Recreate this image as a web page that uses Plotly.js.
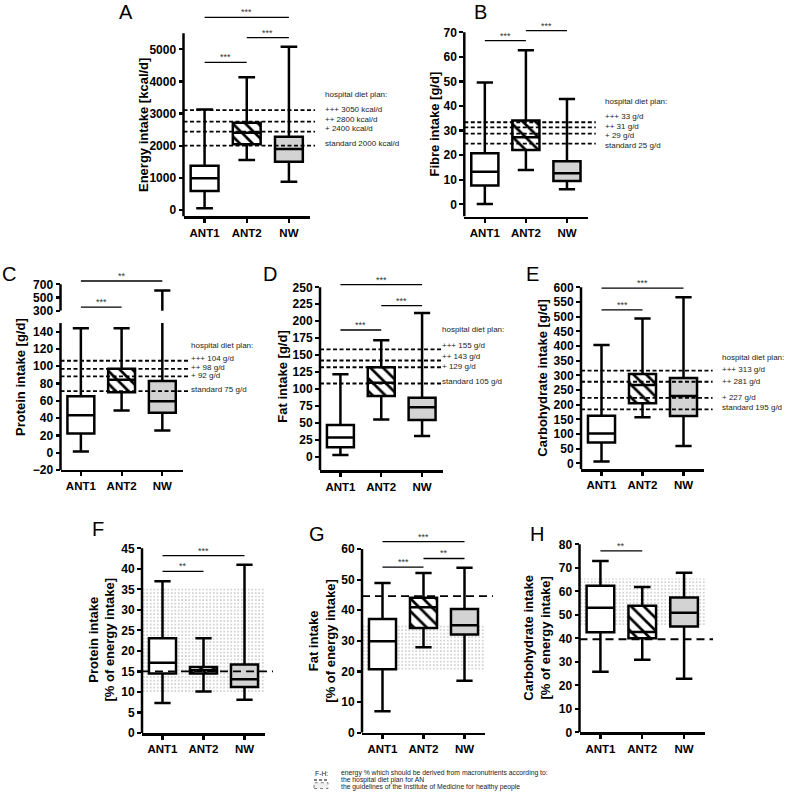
<!DOCTYPE html>
<html><head><meta charset="utf-8">
<script src="https://cdn.plot.ly/plotly-3.0.1.min.js"></script>
<style>html,body{margin:0;padding:0;background:#fff}#chart{width:787px;height:808px}</style>
</head><body><div id="chart"></div>
<script>
// ---------- data ----------
const groups = ['ANT1', 'ANT2', 'NW'];
// five-number summaries per group: [min, q1, median, q3, max]
const energyStats = [[52, 591, 985, 1380, 3130], [1556, 2044, 2407, 2718, 4129], [882, 1504, 1898, 2282, 5083]];
const energyPlan = [3110, 2750, 2440, 2000];
const energyPlanLabels = ['+++ 3050 kcal/d', '++ 2800 kcal/d', '+ 2400 kcal/d', 'standard 2000 kcal/d'];
const energySig = [[0, 1, 4595, '***'], [1, 2, 5363, '***'], [0, 2, 5996, '***']];
const energyTicks = [0, 1000, 2000, 3000, 4000, 5000];

const fibreStats = [[0.1, 7.7, 13.2, 20.8, 49.6], [14.0, 22.1, 27.3, 34.1, 62.7], [6.1, 9.5, 12.6, 17.5, 42.9]];
const fibrePlan = [33.4, 31.3, 28.8, 24.7];
const fibrePlanLabels = ['+++ 33 g/d', '++ 31 g/d', '+ 29 g/d', 'standard 25 g/d'];
const fibreSig = [[0, 1, 66.6, '***'], [1, 2, 70.7, '***']];
const fibreTicks = [0, 10, 20, 30, 40, 50, 60, 70];

const proteinStats = [[1.5, 22.3, 43.2, 65.2, 143.9], [48.9, 70, 84.5, 97, 144], [25.8, 46.2, 59.5, 83, 605]];
const proteinPlan = [106.4, 97, 88.3, 71.2];
const proteinPlanLabels = ['+++ 104 g/d', '++ 98 g/d', '+ 92 g/d', 'standard 75 g/d'];
const proteinSig = [[0, 1, 355, '***'], [0, 2, 750, '**']];
const proteinTicksLow = [-20, 0, 20, 40, 60, 80, 100, 120, 140];
const proteinTicksHigh = [300, 500, 700];

const fatStats = [[2.5, 13.8, 28.5, 46.8, 121.6], [55, 89.5, 109, 132, 172], [30.5, 54, 72.8, 87, 212]];
const fatPlan = [158.5, 142, 132, 108];
const fatPlanLabels = ['+++ 155 g/d', '++ 143 g/d', '+ 129 g/d', 'standard 105 g/d'];
const fatSig = [[0, 1, 187, '***'], [1, 2, 223, '***'], [0, 2, 254, '***']];
const fatTicks = [0, 25, 50, 75, 100, 125, 150, 175, 200, 225, 250];

const carbStats = [[6, 70.5, 102, 162.5, 403], [157, 204.5, 267, 304.5, 494], [59, 161, 229.5, 291, 566]];
const carbPlan = [316, 278, 223, 184];
const carbPlanLabels = ['+++ 313 g/d', '++ 281 g/d', '+ 227 g/d', 'standard 195 g/d'];
const carbSig = [[0, 1, 523, '***'], [0, 2, 597, '***']];
const carbTicks = [0, 50, 100, 150, 200, 250, 300, 350, 400, 450, 500, 550, 600];

const proteinPctStats = [[7.3, 14.5, 17.1, 23.1, 37], [10.1, 14.5, 15.3, 16.1, 23.1], [8.1, 11.2, 13.1, 16.7, 41]];
const proteinPctPlan = [15];
const proteinPctIOM = [10, 35.3];
const proteinPctSig = [[0, 1, 39.4, '**'], [0, 2, 43.2, '***']];
const proteinPctTicks = [0, 5, 10, 15, 20, 25, 30, 35, 40, 45];

const fatPctStats = [[7, 20.7, 29.9, 37.1, 48.9], [27.9, 34.2, 41, 44.1, 52.2], [17, 32.1, 35.1, 40.4, 53.9]];
const fatPctPlan = [44.6];
const fatPctIOM = [20.3, 35.3];
const fatPctSig = [[0, 1, 54.1, '***'], [1, 2, 56.9, '**'], [0, 2, 62.4, '***']];
const fatPctTicks = [0, 10, 20, 30, 40, 50, 60];

const carbPctStats = [[25.8, 42.6, 53, 62.4, 72.9], [30.9, 40, 42.7, 53.9, 61.8], [22.8, 45, 50.9, 57.4, 67.9]];
const carbPctPlan = [39.6];
const carbPctIOM = [45.1, 65.4];
const carbPctSig = [[0, 1, 77.2, '**']];
const carbPctTicks = [0, 10, 20, 30, 40, 50, 60, 70, 80];

// ---------- layout helpers ----------
const W = 787, H = 808;
const FONT = 'Liberation Sans, Arial, Helvetica, sans-serif';
const fx = p => p / W, fy = p => 1 - p / H;
function yDomain(m, lo, hi) {
  const s = (m[3] - m[1]) / (m[2] - m[0]);
  const pix = v => m[1] + (v - m[0]) * s;
  return [fy(pix(lo)), fy(pix(hi))];
}
const boxFills = ['white', 'rgba(0,0,0,0)', '#d3d3d3'];

const panels = [
  {letter: 'A', lp: [126, 12], stats: energyStats, plan: energyPlan, planLabels: energyPlanLabels, sig: energySig, ticks: energyTicks,
   xd: [183.5, 310], map: [0, 210, 5000, 49.3], range: [-200, 6200], spine: [-200, 5500], ext: 1.04, dash: '4px,2.5px',
   title: 'Energy intake [kcal/d]', tp: [143, 125], labX: 322.7, labY: [94.3, 109.3, 119, 128.7, 143.3]},
  {letter: 'B', lp: [480, 12], stats: fibreStats, plan: fibrePlan, planLabels: fibrePlanLabels, sig: fibreSig, ticks: fibreTicks,
   xd: [464.3, 587.5], map: [0, 204.3, 70, 32.3], range: [-5, 73], spine: [-5, 70], ext: 1.067, dash: '4px,2.5px',
   title: 'Fibre intake [g/d]', tp: [434, 124.5], labX: 602.7, labY: [101.7, 116.8, 126.3, 135.8, 145.5]},
  {letter: 'C', lp: [9, 274], stats: proteinStats, plan: proteinPlan, planLabels: proteinPlanLabels, sig: [], ticks: proteinTicksLow,
   xd: [60.5, 182.7], map: [0, 452.7, 140, 331.7], range: [-20, 150], spine: [-20, 150], ext: 1.045, dash: '4px,2.5px',
   title: 'Protein intake [g/d]', tp: [20, 377], labX: 189.3, labY: [346, 358.3, 367.3, 375.7, 389.3]},
  {upper: true, stats: proteinStats, sig: proteinSig, ticks: proteinTicksHigh,
   xd: [60.5, 182.7], map: [300, 310.7, 700, 284.3], range: [300, 780], spine: [300, 700]},
  {letter: 'D', lp: [270, 274], stats: fatStats, plan: fatPlan, planLabels: fatPlanLabels, sig: fatSig, ticks: fatTicks,
   xd: [320, 442.5], map: [0, 456.7, 250, 287.3], range: [-20, 262], spine: [-20, 250], ext: 1.0, dash: '4px,2.5px',
   title: 'Fat intake [g/d]', tp: [281.7, 377], labX: 440.3, labY: [330, 345.7, 356.7, 366.7, 381]},
  {letter: 'E', lp: [532, 274], stats: carbStats, plan: carbPlan, planLabels: carbPlanLabels, sig: carbSig, ticks: carbTicks,
   xd: [581, 704], map: [0, 463.3, 600, 287.3], range: [-20, 612], spine: [-20, 600], ext: 1.07, dash: '4px,2.5px',
   title: 'Carbohydrate intake [g/d]', tp: [541.7, 378], labX: 720, labY: [357.3, 369, 381, 397.3, 407.3]},
  {letter: 'F', lp: [98, 529], stats: proteinPctStats, plan: proteinPctPlan, band: proteinPctIOM, sig: proteinPctSig, ticks: proteinPctTicks,
   xd: [142, 265], map: [0, 733, 45, 548.3], range: [0, 45.6], spine: [0, 45], ext: 1.065, dash: '8px,5px',
   title: 'Protein intake<br>[% of energy intake]', tp: [101.5, 640]},
  {letter: 'G', lp: [317, 534], stats: fatPctStats, plan: fatPctPlan, band: fatPctIOM, sig: fatPctSig, ticks: fatPctTicks,
   xd: [362, 485], map: [0, 732.7, 60, 549], range: [0, 63.8], spine: [0, 60], ext: 1.065, dash: '8px,5px',
   title: 'Fat intake<br>[% of energy intake]', tp: [321.7, 641]},
  {letter: 'H', lp: [537, 534], stats: carbPctStats, plan: carbPctPlan, band: carbPctIOM, sig: carbPctSig, ticks: carbPctTicks,
   xd: [579.5, 705], map: [0, 732.3, 80, 544.3], range: [0, 81], spine: [0, 80], ext: 1.064, dash: '8px,5px',
   title: 'Carbohydrate intake<br>[% of energy intake]', tp: [536.7, 638]}
];

const traces = [], shapes = [], annotations = [];
const layout = {
  width: W, height: H, margin: {l: 0, r: 0, t: 0, b: 0}, paper_bgcolor: 'white', plot_bgcolor: 'rgba(0,0,0,0)',
  showlegend: false, barmode: 'overlay', boxmode: 'overlay', font: {family: FONT, color: 'black'}
};
const tickFont = {family: FONT, size: 12, color: 'black', weight: 'bold'};

panels.forEach((P, i) => {
  const k = i + 1, xs = k === 1 ? '' : String(k);
  const xid = 'x' + xs, yid = 'y' + xs;
  layout['xaxis' + xs] = {
    domain: [fx(P.xd[0]), fx(P.xd[1])], range: [-0.5, 2.5], anchor: yid,
    tickvals: [0, 1, 2], ticktext: groups, showgrid: false, zeroline: false,
    showline: !P.upper, linecolor: 'black', linewidth: 2.5,
    ticks: P.upper ? '' : 'outside', ticklen: 4, tickwidth: 2.2, tickcolor: 'black',
    showticklabels: !P.upper, tickfont: {family: FONT, size: 11.5, color: 'black', weight: 'bold'}, fixedrange: true
  };
  layout['yaxis' + xs] = {
    domain: yDomain(P.map, P.range[0], P.range[1]), range: P.range, anchor: xid,
    tickvals: P.ticks, showgrid: false, zeroline: false, showline: false,
    ticks: 'outside', ticklen: 4, tickwidth: 2.2, tickcolor: 'black', tickfont: tickFont, fixedrange: true
  };
  // axis spine
  shapes.push({type: 'line', xref: xid + ' domain', yref: yid, x0: 0, x1: 0, y0: P.spine[0], y1: P.spine[1],
    line: {color: 'black', width: 2.5}});
  // IOM band (dotted region)
  if (P.band) {
    traces.push({type: 'bar', x: [1], width: [3], base: [P.band[0]], y: [P.band[1] - P.band[0]],
      xaxis: xid, yaxis: yid, hoverinfo: 'skip',
      marker: {color: 'white', line: {width: 0},
        pattern: {shape: '.', fgcolor: '#8c8c8c', bgcolor: 'white', size: 3.5, solidity: 0.1}}});
  }
  // hatched box for ANT2
  const s2 = P.stats[1];
  traces.push({type: 'bar', x: [1], width: [0.66], base: [s2[1]], y: [s2[3] - s2[1]],
    xaxis: xid, yaxis: yid, hoverinfo: 'skip',
    marker: {color: 'white', line: {width: 0},
      pattern: {shape: '\\', fgcolor: 'black', bgcolor: 'white', size: 9, solidity: 0.3}}});
  // boxes
  P.stats.forEach((s, g) => {
    traces.push({type: 'box', x: [g], lowerfence: [s[0]], q1: [s[1]], median: [s[2]], q3: [s[3]], upperfence: [s[4]],
      width: 0.66, whiskerwidth: 0.6, fillcolor: boxFills[g], line: {color: 'black', width: 2.5},
      boxpoints: false, xaxis: xid, yaxis: yid, hoverinfo: 'skip'});
  });
  // reference (diet plan) lines
  if (P.plan) {
    P.plan.forEach(v => shapes.push({type: 'line', layer: 'above', xref: xid + ' domain', yref: yid,
      x0: 0, x1: P.ext, y0: v, y1: v, line: {color: 'black', width: 1.8, dash: P.dash}}));
  }
  // significance bars
  P.sig.forEach(s => {
    shapes.push({type: 'line', layer: 'above', xref: xid, yref: yid, x0: s[0], x1: s[1], y0: s[2], y1: s[2],
      line: {color: 'black', width: 1.3}});
    annotations.push({xref: xid, yref: yid, x: (s[0] + s[1]) / 2, y: s[2], text: s[3], showarrow: false,
      xanchor: 'center', yanchor: 'bottom', yshift: -2, font: {family: FONT, size: 9, color: '#333'}});
  });
  if (P.letter) {
    annotations.push({xref: 'paper', yref: 'paper', x: fx(P.lp[0]), y: fy(P.lp[1]), text: P.letter, showarrow: false,
      xanchor: 'center', yanchor: 'middle', font: {family: FONT, size: 20, color: 'black'}});
    annotations.push({xref: 'paper', yref: 'paper', x: fx(P.tp[0]), y: fy(P.tp[1]), text: P.title, textangle: -90,
      showarrow: false, xanchor: 'center', yanchor: 'middle',
      font: {family: FONT, size: 13, color: 'black', weight: 'bold'}});
  }
  if (P.planLabels) {
    const texts = ['hospital diet plan:'].concat(P.planLabels);
    texts.forEach((t, j) => annotations.push({xref: 'paper', yref: 'paper', x: fx(P.labX), y: fy(P.labY[j]), text: t,
      showarrow: false, xanchor: 'left', yanchor: 'middle', font: {family: FONT, size: 8, color: '#222'}}));
  }
});

// bottom legend
const legendLines = [
  [313.3, 773.3, 'F-H:'],
  [339.3, 773.3, 'energy % which should be derived from macronutrients according to:'],
  [339.3, 779.9, 'the hospital diet plan for AN'],
  [339.3, 786.5, 'the guidelines of the Institute of Medicine for healthy people']
];
legendLines.forEach(l => annotations.push({xref: 'paper', yref: 'paper', x: fx(l[0]), y: fy(l[1]), text: l[2],
  showarrow: false, xanchor: 'left', yanchor: 'middle', font: {family: FONT, size: 6.8, color: '#222'}}));
shapes.push({type: 'line', xref: 'paper', yref: 'paper', x0: fx(314), x1: fx(327), y0: fy(780), y1: fy(780),
  line: {color: 'black', width: 1.2, dash: '3px,2px'}});
shapes.push({type: 'rect', xref: 'paper', yref: 'paper', x0: fx(314), x1: fx(328), y0: fy(788.5), y1: fy(782.7),
  line: {color: '#666', width: 0.8, dash: 'dot'}, fillcolor: '#f0f0f0'});

layout.shapes = shapes;
layout.annotations = annotations;
Plotly.newPlot('chart', traces, layout, {staticPlot: true, displayModeBar: false});
</script>
</body></html>
